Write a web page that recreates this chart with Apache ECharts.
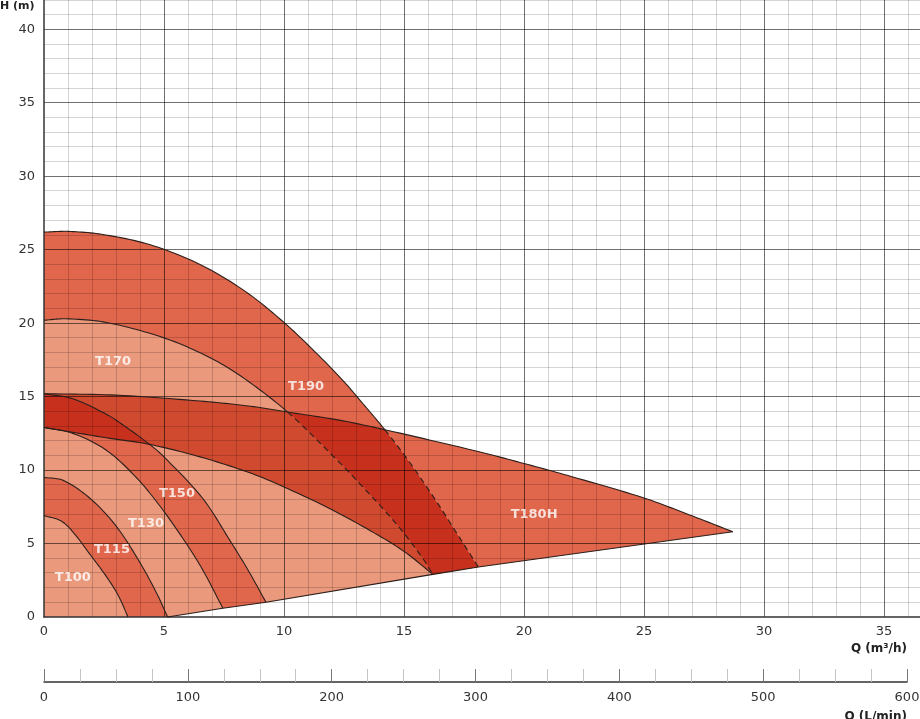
<!DOCTYPE html>
<html>
<head>
<meta charset="utf-8">
<script src="https://cdn.jsdelivr.net/npm/echarts/dist/echarts.min.js"></script>
<style>html,body{margin:0;padding:0;background:#fff}#chart{width:920px;height:719px}</style>
</head>
<body>
<div id="chart"></div>
<script>
// ---- data (Q in m3/h, H in m) ----
const curveT100 = [[0,6.9],[0.7,6.55],[1.2,5.8],[1.9,4.3],[2.6,2.75],[3.1,1.45],[3.5,0]];
const curveT115 = [[0,9.5],[0.8,9.3],[1.9,8.1],[3.0,6.2],[4.0,3.7],[4.7,1.6],[5.15,0]];
const curveT130 = [[0,12.9],[1.2,12.5],[2.6,11.35],[3.9,9.4],[4.9,7.4],[5.95,4.95],[6.65,3.1],[7.45,0.6]];
const curveT150 = [[0,15.2],[1.2,14.85],[2.6,13.8],[3.4,12.95],[4.4,11.75],[5.0,10.9],[6.6,8.1],[7.75,5.2],[8.5,3.2],[9.25,1.0]];
const curveT170Visible = [[0,20.2],[0.9,20.3],[2.6,20.05],[5.0,19.0],[6.8,17.75],[8.2,16.4],[10.15,13.95]];
const curveT170Hidden = [[10.15,13.95],[12.2,10.7],[13.2,9.0],[14.7,6.3],[15.8,3.95],[16.2,2.9]];
const curveT190Visible = [[0,26.2],[1,26.25],[2.4,26.05],[4.4,25.35],[6.5,24.0],[8.4,22.15],[10,20.05],[11.2,18.2],[12.4,16.2],[13.3,14.5],[14.2,12.75]];
const curveT190Hidden = [[14.2,12.75],[15.25,10.5],[16.4,7.75],[17.2,5.7],[18.1,3.4]];
const curveT180HTop = [[0,15.2],[3,15.1],[6.5,14.7],[8.6,14.35],[10.15,13.95],[12.3,13.4],[14.2,12.75],[18,11.3],[20,10.45],[22,9.55],[25,8.1],[26.9,6.95],[28.7,5.8]];
const curveT180HLow = [[0,12.9],[2.6,12.2],[4.4,11.75],[6.5,10.9],[8.6,9.8],[10,8.85],[12,7.3],[14.1,5.4],[15.1,4.35],[16.2,2.9]];
const limitLine = [[5.15,0],[7.45,0.6],[9.25,1.0],[16.2,2.9],[18.1,3.4],[28.7,5.8]];
const modelNames = ['T100','T115','T130','T150','T170','T190','T180H'];
const labelAnchors = [[1.2,2.7],[2.83,4.56],[4.25,6.33],[5.54,8.37],[2.88,17.35],[10.92,15.71],[20.42,6.94]];
const qAxisMax = 36.5, hAxisMax = 42, lminAxisMax = 600;
const qTickStep = 5, hTickStep = 5, lminTickStep = 100, gridStep = 1;

// ---- styles ----
const LIGHT = '#EA997C', MED = '#E0664C', DARK = '#CF4A2F', DARKEST = '#C6301C', LINE = '#2b1e1a';
const FONT = '"DejaVu Sans", Verdana, sans-serif';
const MAJOR = 'rgba(0,0,0,0.56)', MINOR = 'rgba(0,0,0,0.17)';

const curveT170 = curveT170Visible.concat(curveT170Hidden.slice(1));
const curveT190 = curveT190Visible.concat(curveT190Hidden.slice(1));
const SEG = 12;

// smooth a pixel polyline with chord-scaled cubic bezier tangents (rendering only)
function smoothPx(px) {
  const m = px.length;
  if (m < 3) return px.slice();
  const d = [];
  for (let i = 0; i < m - 1; i++) d.push(Math.hypot(px[i+1][0]-px[i][0], px[i+1][1]-px[i][1]) || 1e-6);
  const tan = [];
  for (let i = 0; i < m; i++) {
    let a, b, len;
    if (i === 0) { a = px[0]; b = px[1]; len = d[0]; }
    else if (i === m - 1) { a = px[m-2]; b = px[m-1]; len = d[m-2]; }
    else { a = px[i-1]; b = px[i+1]; len = d[i-1] + d[i]; }
    tan.push([(b[0]-a[0])/len, (b[1]-a[1])/len]);
  }
  const out = [px[0]];
  for (let i = 0; i < m - 1; i++) {
    const p0 = px[i], p3 = px[i+1], L = d[i] / 3;
    const c1 = [p0[0] + tan[i][0]*L, p0[1] + tan[i][1]*L];
    const c2 = [p3[0] - tan[i+1][0]*L, p3[1] - tan[i+1][1]*L];
    for (let k = 1; k <= SEG; k++) {
      const t = k / SEG, u = 1 - t;
      out.push([
        u*u*u*p0[0] + 3*u*u*t*c1[0] + 3*u*t*t*c2[0] + t*t*t*p3[0],
        u*u*u*p0[1] + 3*u*u*t*c1[1] + 3*u*t*t*c2[1] + t*t*t*p3[1]
      ]);
    }
  }
  return out;
}
const cpx = (api, pts) => smoothPx(pts.map(p => api.coord(p)));
const lpx = (api, pts) => pts.map(p => api.coord(p));
const baseBetween = (q0, q1) => limitLine.filter(p => p[0] >= q0 - 1e-9 && p[0] <= q1 + 1e-9);
const rev = a => a.slice().reverse();
const idx = (curve, q) => curve.findIndex(p => Math.abs(p[0] - q) < 1e-9) * SEG;

const iT150Low = () => idx(curveT150, 4.4);
const iLow150 = () => idx(curveT180HLow, 4.4);
const iTop170 = () => idx(curveT180HTop, curveT170Hidden[0][0]);
const iTop190 = () => idx(curveT180HTop, curveT190Hidden[0][0]);
const j170 = (curveT170Visible.length - 1) * SEG;
const j190 = (curveT190Visible.length - 1) * SEG;

const regions = [
  { name: 'T100', color: LIGHT, build: api => cpx(api, curveT100).concat([api.coord([0, 0])]) },
  { name: 'T115', color: MED, build: api => cpx(api, curveT115).concat(rev(cpx(api, curveT100))) },
  { name: 'T130', color: LIGHT, build: api => cpx(api, curveT130).concat(rev(lpx(api, baseBetween(5.15, 7.45))), rev(cpx(api, curveT115))) },
  { name: 'T150', color: MED, build: api => cpx(api, curveT150).concat(rev(lpx(api, baseBetween(7.45, 9.25))), rev(cpx(api, curveT130))) },
  { name: 'T170', color: LIGHT, build: api => cpx(api, curveT170).concat(rev(lpx(api, baseBetween(9.25, 16.2))), rev(cpx(api, curveT150))) },
  { name: 'T190', color: MED, build: api => cpx(api, curveT190).concat(rev(lpx(api, baseBetween(16.2, 18.1))), rev(cpx(api, curveT170))) },
  // T180H band, split where it overlaps the other models
  { name: 'T180H/T150', color: DARKEST, build: api => {
      const t150 = cpx(api, curveT150), low = cpx(api, curveT180HLow);
      return t150.slice(0, iT150Low() + 1).concat(rev(low.slice(0, iLow150() + 1)));
  } },
  { name: 'T180H/T170', color: DARK, build: api => {
      const top = cpx(api, curveT180HTop), low = cpx(api, curveT180HLow), t170 = cpx(api, curveT170), t150 = cpx(api, curveT150);
      return top.slice(0, iTop170() + 1).concat(t170.slice(j170), rev(low.slice(iLow150())), rev(t150.slice(0, iT150Low() + 1)));
  } },
  { name: 'T180H/T190', color: DARKEST, build: api => {
      const top = cpx(api, curveT180HTop), t170 = cpx(api, curveT170), t190 = cpx(api, curveT190);
      return top.slice(iTop170(), iTop190() + 1).concat(t190.slice(j190), rev(lpx(api, baseBetween(16.2, 18.1))), rev(t170.slice(j170)));
  } },
  { name: 'T180H', color: MED, build: api => {
      const top = cpx(api, curveT180HTop), t190 = cpx(api, curveT190);
      return top.slice(iTop190()).concat(rev(lpx(api, baseBetween(18.1, 28.7))), rev(t190.slice(j190)));
  } }
];

const regionSeries = regions.map((r, i) => ({
  type: 'custom', name: r.name, silent: true, z: 1 + i * 0.01,
  xAxisIndex: 0, yAxisIndex: 0,
  data: [[0, 0]],
  renderItem: (params, api) => ({
    type: 'polygon',
    shape: { points: r.build(api) },
    style: { fill: r.color, stroke: null }
  })
}));

// grid lines drawn through the axis scales, on top of the fills
const gridSeries = {
  type: 'custom', silent: true, z: 3, xAxisIndex: 0, yAxisIndex: 0,
  data: [[0, 0]],
  renderItem: (params, api) => {
    const children = [];
    const crisp = v => Math.round(v - 0.5) + 0.5;
    for (let q = gridStep; q <= qAxisMax; q += gridStep) {
      const a = api.coord([q, 0]), b = api.coord([q, hAxisMax]);
      const x = crisp(a[0]);
      children.push({ type: 'line', shape: { x1: x, y1: a[1], x2: x, y2: b[1] },
        style: { stroke: q % qTickStep === 0 ? MAJOR : MINOR, lineWidth: 1 } });
    }
    for (let h = gridStep; h <= hAxisMax; h += gridStep) {
      const a = api.coord([0, h]), b = api.coord([qAxisMax, h]);
      const y = crisp(a[1]);
      children.push({ type: 'line', shape: { x1: a[0], y1: y, x2: b[0], y2: y },
        style: { stroke: h % hTickStep === 0 ? MAJOR : MINOR, lineWidth: 1 } });
    }
    return { type: 'group', children };
  }
};

function strokeEl(points, dashed) {
  return { type: 'polyline', shape: { points }, style: { fill: null, stroke: LINE, lineWidth: 1.1, lineDash: dashed ? [6, 4] : null } };
}

const strokeSeries = {
  type: 'custom', silent: true, z: 5, xAxisIndex: 0, yAxisIndex: 0,
  data: [[0, 0]],
  renderItem: (params, api) => {
    const t170 = cpx(api, curveT170);
    const t190 = cpx(api, curveT190);
    return {
      type: 'group',
      children: [
        strokeEl(cpx(api, curveT100)),
        strokeEl(cpx(api, curveT115)),
        strokeEl(cpx(api, curveT130)),
        strokeEl(cpx(api, curveT150)),
        strokeEl(t170.slice(0, j170 + 1)),
        strokeEl(t170.slice(j170), true),
        strokeEl(t190.slice(0, j190 + 1)),
        strokeEl(t190.slice(j190), true),
        strokeEl(cpx(api, curveT180HTop)),
        strokeEl(cpx(api, curveT180HLow)),
        strokeEl(lpx(api, limitLine))
      ]
    };
  }
};

const labelSeries = {
  type: 'scatter', silent: true, z: 10, xAxisIndex: 0, yAxisIndex: 0,
  symbolSize: 0,
  data: modelNames.map((n, i) => ({ name: n, value: labelAnchors[i] })),
  label: { show: true, position: 'inside', formatter: '{b}', color: '#fff', fontWeight: 'bold', fontSize: 13, fontFamily: FONT }
};

const option = {
  backgroundColor: '#fff',
  animation: false,
  grid: [
    { left: 44, right: 0, top: 0, bottom: 102, containLabel: false, outerBoundsMode: 'none' },
    { left: 44, width: 863, top: 681, height: 1, containLabel: false, outerBoundsMode: 'none' }
  ],
  xAxis: [
    {
      type: 'value', gridIndex: 0, min: 0, max: qAxisMax, interval: qTickStep, z: 4,
      axisLine: { show: true, onZero: false, lineStyle: { color: '#333', width: 1.5 } },
      axisTick: { show: false },
      axisLabel: { margin: 8, color: '#333', fontSize: 13, fontFamily: FONT, formatter: v => (v % qTickStep === 0 ? String(v) : '') },
      splitLine: { show: false }
    },
    {
      type: 'value', gridIndex: 1, min: 0, max: lminAxisMax, interval: lminTickStep,
      axisLine: { show: true, onZero: false, lineStyle: { color: '#333', width: 1.5 } },
      axisTick: { show: true, inside: true, length: 13, lineStyle: { color: '#777', width: 1 } },
      minorTick: { show: true, splitNumber: 4, length: 13, lineStyle: { color: '#c4c4c4', width: 1 } },
      axisLabel: { margin: 9, color: '#333', fontSize: 13, fontFamily: FONT },
      splitLine: { show: false }
    }
  ],
  yAxis: [
    {
      type: 'value', gridIndex: 0, min: 0, max: hAxisMax, interval: hTickStep, z: 4,
      axisLine: { show: true, onZero: false, lineStyle: { color: '#333', width: 1.5 } },
      axisTick: { show: false },
      axisLabel: { margin: 9, color: '#333', fontSize: 13, fontFamily: FONT, formatter: v => (v % hTickStep === 0 ? String(v) : '') },
      splitLine: { show: false }
    },
    { type: 'value', gridIndex: 1, min: 0, max: 1, show: false }
  ],
  graphic: [
    { type: 'text', left: 0, top: 1, style: { text: 'H (m)', font: 'bold 11px ' + FONT, fill: '#222' } },
    { type: 'text', right: 13, top: 643, style: { text: 'Q (m³/h)', font: 'bold 12px ' + FONT, fill: '#222' } },
    { type: 'text', right: 13, top: 711, style: { text: 'Q (L/min)', font: 'bold 12px ' + FONT, fill: '#222' } }
  ],
  series: regionSeries.concat([gridSeries, strokeSeries, labelSeries])
};

const chart = echarts.init(document.getElementById('chart'), null, { renderer: 'canvas' });
chart.setOption(option);
</script>
</body>
</html>
